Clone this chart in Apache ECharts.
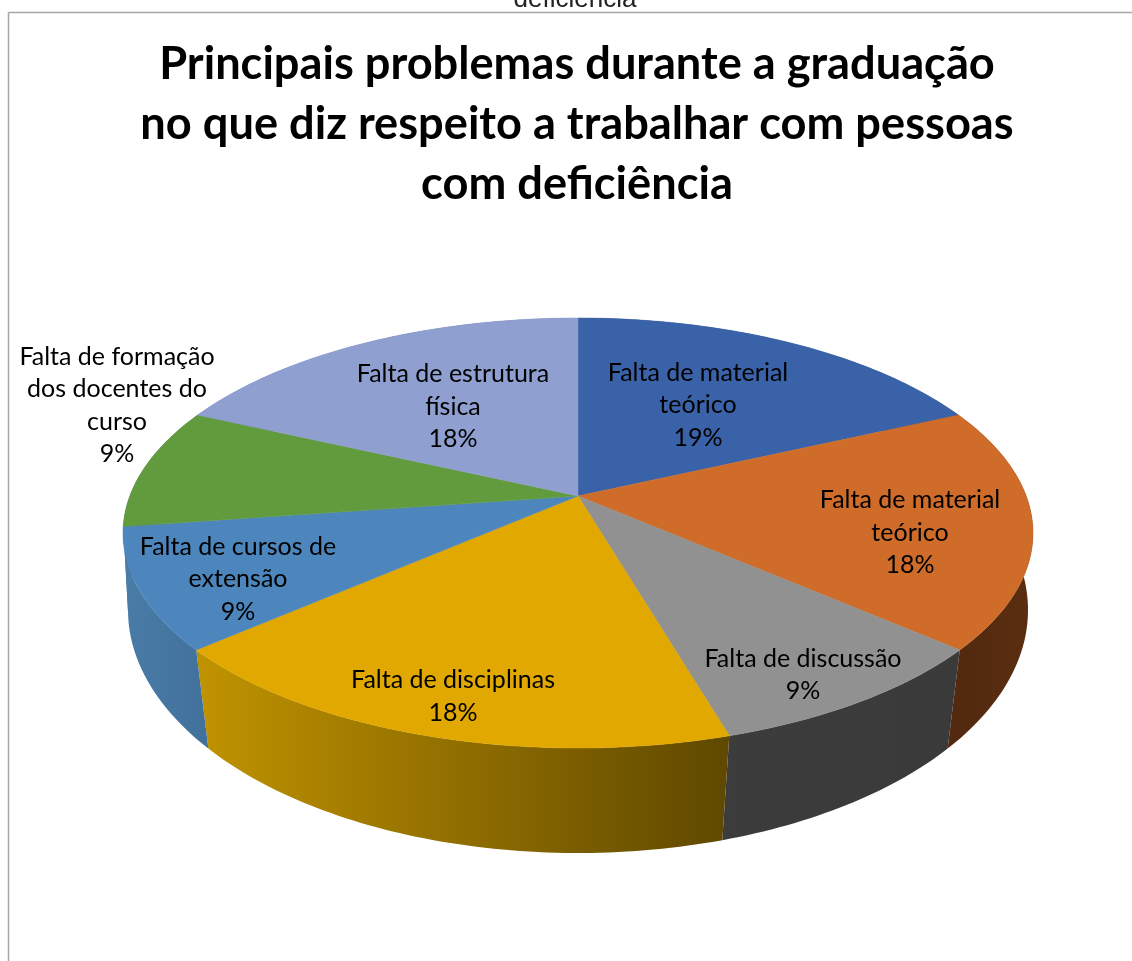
<!DOCTYPE html>
<html>
<head>
<meta charset="utf-8">
<style>html,body{margin:0;padding:0;background:#fff}#c{width:1132px;height:961px}</style>
<script src="https://cdn.jsdelivr.net/npm/echarts@6/dist/echarts.min.js"></script>
</head>
<body>
<div id="c"></div>
<script>
// ---- data ----
const categories = [
  'Falta de material\nteórico',
  'Falta de material\nteórico',
  'Falta de discussão',
  'Falta de disciplinas',
  'Falta de cursos de\nextensão',
  'Falta de formação\ndos docentes do\ncurso',
  'Falta de estrutura\nfísica'
];
const shares = [18.2, 18.2, 9.1, 18.2, 9.1, 9.1, 18.2];
const percentLabels = ['19%', '18%', '9%', '18%', '9%', '9%', '18%'];
const chartTitle = 'Principais problemas durante a graduação\nno que diz respeito a trabalhar com pessoas\ncom deficiência';
const clippedHeading = 'deficiência';

// ---- styles ----
const topColors = ['#3A62A9', '#CF6C29', '#919191', '#E0A800', '#4D86BC', '#629B3E', '#8E9FD0'];
const sideColors = [
  ['#2B4A80', '#2B4A80'], ['#5A2E10', '#52290F'], ['#3C3C3C', '#3A3A3A'],
  ['#C09300', '#5F4800'], ['#4A7CA8', '#41719B'], ['#4A7CA8', '#4A7CA8'], ['#6B789E', '#6B789E']
];
// ---- layout (perspective disc) ----
const L = {
  cx: 578,
  topCy: 533, topRx: 455, topRy: 215, topP: 37 / 215,
  botCy: 610, botRx: 450, botRy: 243, botP: 0.135
};
const labelAnchors = [[698, 405], [910, 532.5], [803, 675], [453, 696.5], [238, 579], [117, 405.5], [453, 406.5]];
const labelFont = '"Lato","Open Sans",sans-serif';

const total = shares.reduce((a, b) => a + b, 0);
const starts = [];
shares.reduce((acc, v, i) => { starts[i] = acc; return acc + v; }, 0);

function project(theta, p) {
  const u = Math.sin(theta), v = Math.cos(theta), w = 1 + p * v;
  return [u * Math.sqrt(1 - p * p) / w, (v + p) / w];
}
function topPt(theta) {
  const e = project(theta, L.topP);
  return [L.cx + L.topRx * e[0], L.topCy - L.topRy * e[1]];
}
function botPt(theta) {
  const e = project(theta, L.botP);
  return [L.cx + L.botRx * e[0], L.botCy - L.botRy * e[1]];
}
function rimAngles(a0, a1) {
  const n = Math.max(2, Math.ceil((a1 - a0) / (Math.PI / 180)));
  const out = [];
  for (let i = 0; i <= n; i++) out.push(a0 + (a1 - a0) * i / n);
  return out;
}
const apex = [L.cx, L.topCy - L.topRy * L.topP];

function renderSlice(params, api) {
  const i = params.dataIndex;
  const a0 = starts[i] / total * 2 * Math.PI;
  const a1 = a0 + api.value(0) / total * 2 * Math.PI;
  const angs = rimAngles(a0, a1);
  const topRim = angs.map(topPt);
  const botRim = angs.map(botPt);
  const xs = topRim.concat(botRim).map(p => p[0]);
  const x0 = Math.min.apply(null, xs), x1 = Math.max.apply(null, xs);
  const leftFirst = topRim[0][0] < topRim[topRim.length - 1][0];
  const c = sideColors[i];
  return {
    type: 'group',
    children: [
      {
        type: 'polygon', z2: 1, silent: true,
        shape: { points: topRim.concat(botRim.slice().reverse()) },
        style: {
          fill: { type: 'linear', x: x0, y: 0, x2: x1, y2: 0, global: true,
            colorStops: [{ offset: 0, color: leftFirst ? c[1] : c[0] }, { offset: 1, color: leftFirst ? c[0] : c[1] }] }
        }
      },
      {
        type: 'polygon', z2: 2,
        shape: { points: [apex].concat(topRim) },
        style: { fill: topColors[i], stroke: topColors[i], lineWidth: 0.5 }
      },
      {
        type: 'text', z2: 3, silent: true,
        x: labelAnchors[i][0], y: labelAnchors[i][1],
        style: {
          text: categories[i] + '\n' + percentLabels[i],
          font: '25px ' + labelFont, lineHeight: 32.5,
          fill: '#000', align: 'center', verticalAlign: 'middle'
        }
      }
    ]
  };
}

const chart = echarts.init(document.getElementById('c'), null, { renderer: 'canvas' });
chart.setOption({
  animation: false,
  backgroundColor: '#fff',
  title: {
    text: chartTitle, left: 572, top: 29, textAlign: 'center',
    textStyle: { fontFamily: labelFont, fontWeight: 'bold', fontSize: 45.2, lineHeight: 60, color: '#000' }
  },
  graphic: [
    { type: 'line', shape: { x1: 8.5, y1: 12.5, x2: 1132, y2: 12.5 }, style: { stroke: '#A6A6A6', lineWidth: 1.5 } },
    { type: 'line', shape: { x1: 8.5, y1: 12.5, x2: 8.5, y2: 961 }, style: { stroke: '#A6A6A6', lineWidth: 1.5 } },
    { type: 'text', x: 575, y: 13, style: { text: clippedHeading, font: '26px "Liberation Sans",Arial,sans-serif', fill: '#222', align: 'center', verticalAlign: 'bottom' } }
  ],
  series: [{
    type: 'custom',
    coordinateSystem: 'none',
    renderItem: renderSlice,
    data: shares.map((v, i) => ({ name: categories[i], value: [v] }))
  }]
});
</script>
</body>
</html>
